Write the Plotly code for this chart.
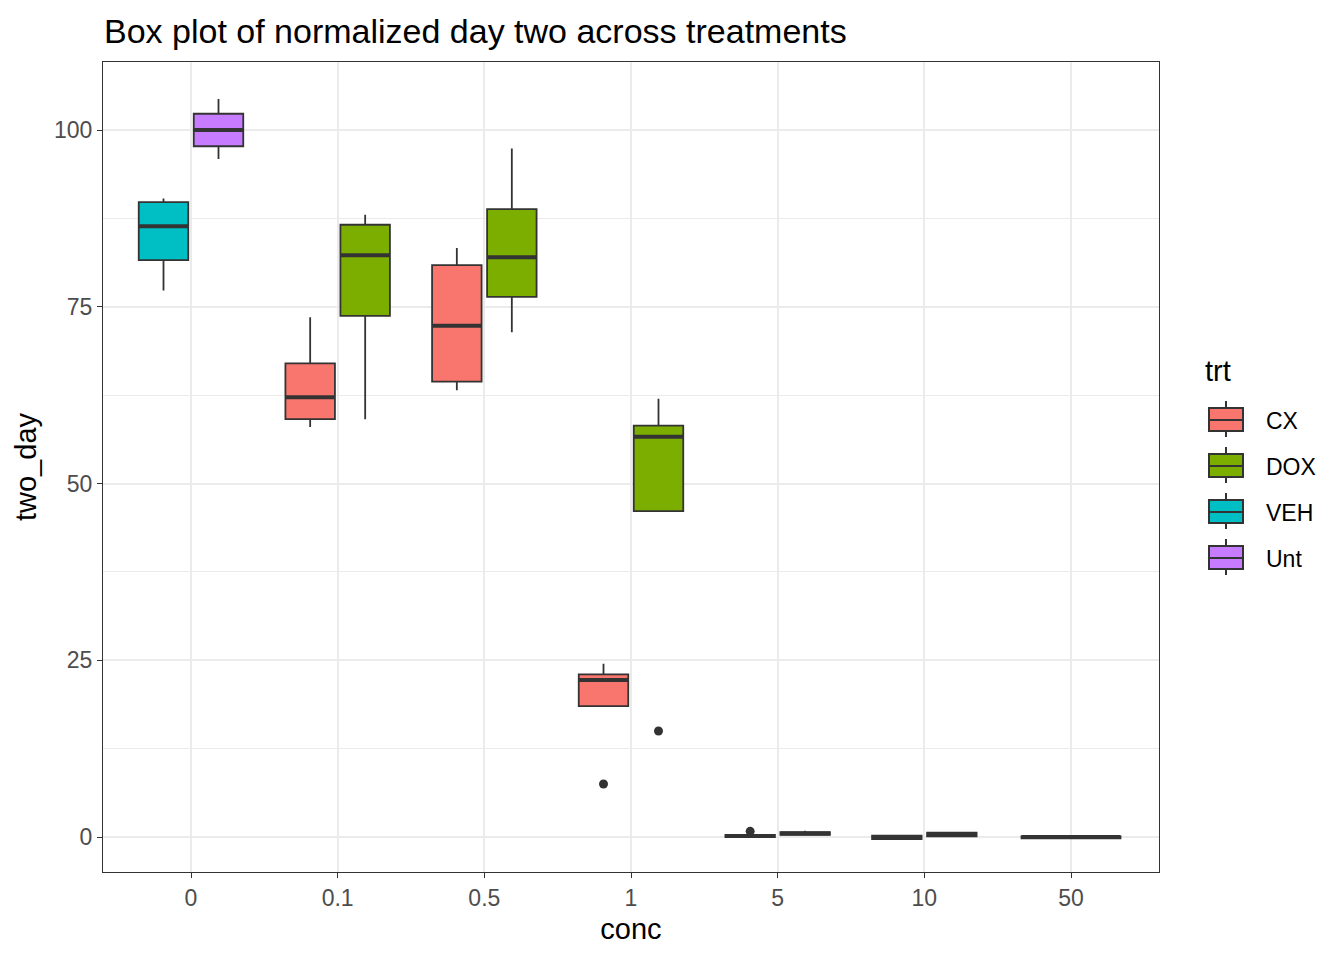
import plotly.graph_objects as go

# ---------------- data ----------------
conc_levels = ["0", "0.1", "0.5", "1", "5", "10", "50"]
treatments = ["CX", "DOX", "VEH", "Unt"]
colors = {"CX": "#F8766D", "DOX": "#7CAE00", "VEH": "#00BFC4", "Unt": "#C77CFF"}

cx_conc = ["0.1", "0.5", "1", "5", "10", "50"]
cx_lower = [58.0, 63.2, 18.5, -0.1, -0.4, -0.3]
cx_q1 = [59.1, 64.4, 18.5, 0.0, -0.3, -0.2]
cx_median = [62.2, 72.3, 22.2, 0.15, 0.0, 0.0]
cx_q3 = [67.0, 80.9, 23.0, 0.3, 0.2, 0.1]
cx_upper = [73.5, 83.3, 24.5, 0.4, 0.3, 0.2]

dox_conc = ["0.1", "0.5", "1", "5", "10"]
dox_lower = [59.1, 71.4, 46.1, 0.2, 0.1]
dox_q1 = [73.7, 76.4, 46.1, 0.3, 0.1]
dox_median = [82.3, 82.0, 56.6, 0.5, 0.4]
dox_q3 = [86.6, 88.8, 58.2, 0.7, 0.6]
dox_upper = [88.0, 97.4, 62.0, 0.9, 0.7]

veh_conc = ["0"]
veh_lower = [77.3]
veh_q1 = [81.6]
veh_median = [86.4]
veh_q3 = [89.8]
veh_upper = [90.3]

unt_conc = ["0"]
unt_lower = [95.9]
unt_q1 = [97.7]
unt_median = [100.0]
unt_q3 = [102.3]
unt_upper = [104.4]

outlier_trt = ["CX", "DOX", "CX"]
outlier_conc = ["1", "1", "5"]
outlier_val = [7.5, 15.0, 0.8]

stats = {
    "CX": (cx_conc, cx_lower, cx_q1, cx_median, cx_q3, cx_upper),
    "DOX": (dox_conc, dox_lower, dox_q1, dox_median, dox_q3, dox_upper),
    "VEH": (veh_conc, veh_lower, veh_q1, veh_median, veh_q3, veh_upper),
    "Unt": (unt_conc, unt_lower, unt_q1, unt_median, unt_q3, unt_upper),
}

# ---------------- dodge positions (ggplot-like) ----------------
DODGE = 0.75
present = {c: [t for t in treatments if c in stats[t][0]] for c in conc_levels}


def position(trt, conc):
    groups = present[conc]
    n = len(groups)
    k = groups.index(trt)
    slot = DODGE / n
    center = conc_levels.index(conc) - DODGE / 2 + (k + 0.5) * slot
    return center, slot * 0.9


LINE = "#333333"
fig = go.Figure()

med_x, med_y = [], []
for trt in treatments:
    cs, lo, q1, md, q3, up = stats[trt]
    for i, c in enumerate(cs):
        xc, w = position(trt, c)
        fig.add_trace(go.Box(
            x=[xc], q1=[q1[i]], median=[md[i]], q3=[q3[i]],
            lowerfence=[lo[i]], upperfence=[up[i]],
            width=w, whiskerwidth=0,
            fillcolor=colors[trt], line=dict(color=LINE, width=1.8),
            name=trt, showlegend=False,
            boxpoints=False, hoverinfo="skip",
        ))
        med_x += [xc - w / 2, xc + w / 2, None]
        med_y += [md[i], md[i], None]

# thicker median lines (ggplot fatten)
fig.add_trace(go.Scatter(x=med_x, y=med_y, mode="lines",
                         line=dict(color=LINE, width=4),
                         showlegend=False, hoverinfo="skip"))

# outliers
ox = [position(t, c)[0] for t, c in zip(outlier_trt, outlier_conc)]
fig.add_trace(go.Scatter(x=ox, y=outlier_val, mode="markers",
                         marker=dict(color=LINE, size=9),
                         showlegend=False, hoverinfo="skip"))

# ---------------- ggplot-style legend (drawn in paper coords) ----------------
PX0, PX1, PY0, PY1 = 103, 1159, 62, 872   # panel edges in page pixels


def px(p):
    return (p - PX0) / (PX1 - PX0)


def py(p):
    return (PY1 - p) / (PY1 - PY0)


shapes = []
annotations = []
annotations.append(dict(text="trt", xref="paper", yref="paper",
                        x=px(1203), y=py(371), xanchor="left", yanchor="middle",
                        showarrow=False, font=dict(size=29, color="black")))
for k, trt in enumerate(treatments):
    cy = 420 + 46 * k
    shapes.append(dict(type="line", xref="paper", yref="paper",
                       x0=px(1226), x1=px(1226), y0=py(cy - 19), y1=py(cy + 17),
                       line=dict(color=LINE, width=2)))
    shapes.append(dict(type="rect", xref="paper", yref="paper",
                       x0=px(1209), x1=px(1243), y0=py(cy - 12), y1=py(cy + 11),
                       fillcolor=colors[trt], line=dict(color=LINE, width=2)))
    shapes.append(dict(type="line", xref="paper", yref="paper",
                       x0=px(1209), x1=px(1243), y0=py(cy), y1=py(cy),
                       line=dict(color=LINE, width=2)))
    annotations.append(dict(text=trt, xref="paper", yref="paper",
                            x=px(1264), y=py(cy + 1), xanchor="left", yanchor="middle",
                            showarrow=False, font=dict(size=23, color="black")))

FONT = "Liberation Sans, Arial, sans-serif"
fig.update_layout(
    width=1344, height=960,
    margin=dict(l=95, r=193, t=54, b=96),
    paper_bgcolor="white", plot_bgcolor="white",
    boxmode="overlay", showlegend=False,
    font=dict(family=FONT, color="black"),
    shapes=shapes, annotations=annotations,
    title=dict(text="Box plot of normalized day two across treatments",
               x=96 / 1344, xanchor="left", xref="container",
               y=1 - 23 / 960, yanchor="middle", yref="container",
               font=dict(size=34, color="black")),
    xaxis=dict(range=[-0.6, 6.6], tickmode="array",
               tickvals=list(range(len(conc_levels))), ticktext=conc_levels,
               showgrid=True, gridcolor="#EBEBEB", gridwidth=2,
               zeroline=False, showline=True, mirror=True,
               linecolor=LINE, linewidth=1.3,
               ticks="outside", ticklen=5, tickcolor=LINE, tickwidth=1.3,
               tickfont=dict(size=23, color="#4D4D4D"),
               title=dict(text="conc", font=dict(size=29), standoff=8)),
    yaxis=dict(range=[-4.95, 109.62], tickmode="array",
               tickvals=[0, 25, 50, 75, 100],
               showgrid=True, gridcolor="#EBEBEB", gridwidth=2,
               minor=dict(tickvals=[12.5, 37.5, 62.5, 87.5],
                          showgrid=True, gridcolor="#EBEBEB", gridwidth=1),
               zeroline=False, showline=True, mirror=True,
               linecolor=LINE, linewidth=1.3,
               ticks="outside", ticklen=5, tickcolor=LINE, tickwidth=1.3,
               tickfont=dict(size=23, color="#4D4D4D"),
               title=dict(text="two_day", font=dict(size=29), standoff=8)),
)

fig.write_html("out.html")
